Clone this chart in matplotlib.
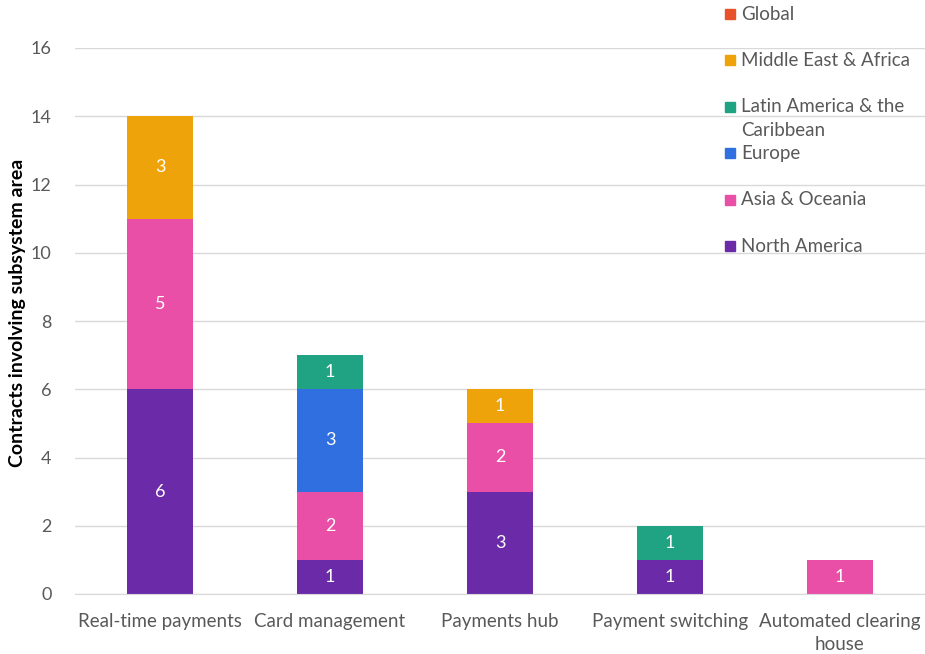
import matplotlib
matplotlib.use("Agg")
import matplotlib.pyplot as plt
from matplotlib.patches import Rectangle
import numpy as np

categories = ["Real-time payments", "Card management", "Payments hub",
              "Payment switching", "Automated clearing\nhouse"]
series = ["North America", "Asia & Oceania", "Europe",
          "Latin America & the\nCaribbean", "Middle East & Africa", "Global"]
north_america = [6, 1, 3, 1, 0]
asia_oceania = [5, 2, 2, 0, 1]
europe = [0, 3, 0, 0, 0]
latin_america = [0, 1, 0, 1, 0]
middle_east_africa = [3, 0, 1, 0, 0]
global_ = [0, 0, 0, 0, 0]
values = [north_america, asia_oceania, europe, latin_america, middle_east_africa, global_]
colors = ["#6B2BA8", "#EA4FA8", "#2F6FDF", "#1FA382", "#EFA30A", "#E8502A"]
yticks = [0, 2, 4, 6, 8, 10, 12, 14, 16]

plt.rcParams['font.family'] = ['Lato', 'DejaVu Sans']
W, H = 925, 654
fig = plt.figure(figsize=(W / 100, H / 100), dpi=100)
ax = fig.add_axes([75 / W, 60 / H, 850 / W, 546 / H])

x = np.arange(len(categories))
bottom = np.zeros(len(categories))
for vals, col in zip(values, colors):
    v = np.array(vals, dtype=float)
    ax.bar(x, v, 0.39, bottom=bottom, color=col, zorder=2)
    for xi, b, val in zip(x, bottom, v):
        if val > 0:
            ax.text(xi, b + val / 2, f"{int(val)}", ha="center", va="center",
                    color="white", fontsize=13, zorder=3)
    bottom += v

ax.set_xlim(-0.5, len(categories) - 0.5)
ax.set_ylim(0, 16)
ax.set_yticks(yticks)
ax.set_xticks(x)
ax.set_xticklabels(categories, fontsize=13.5, color="#595959", linespacing=1.4)
ax.tick_params(axis="y", labelsize=13, colors="#595959", length=0, pad=17)
ax.tick_params(axis="x", length=0, pad=14)
ax.grid(axis="y", color="#D9D9D9", linewidth=1, zorder=0)
for s in ["top", "right", "left"]:
    ax.spines[s].set_visible(False)
ax.spines["bottom"].set_color("#D9D9D9")
ax.set_ylabel("Contracts involving subsystem area", fontsize=14,
              fontweight="bold", color="black")
ax.yaxis.set_label_coords(-0.058, 0.515)

# Legend drawn manually (Excel-style), top entry = Global
order = list(range(len(series)))[::-1]
for i, k in enumerate(order):
    ypix = 14 + 46.4 * i
    fig.patches.append(Rectangle((725 / W, 1 - (ypix + 5) / H), 10 / W, 10 / H,
                                 transform=fig.transFigure, color=colors[k], zorder=5))
    for j, line in enumerate(series[k].split("\n")):
        fig.text(741 / W, 1 - (ypix + 24 * j) / H, line, fontsize=13.5,
                 color="#595959", va="center", ha="left")

fig.savefig("out.png", dpi=100)
